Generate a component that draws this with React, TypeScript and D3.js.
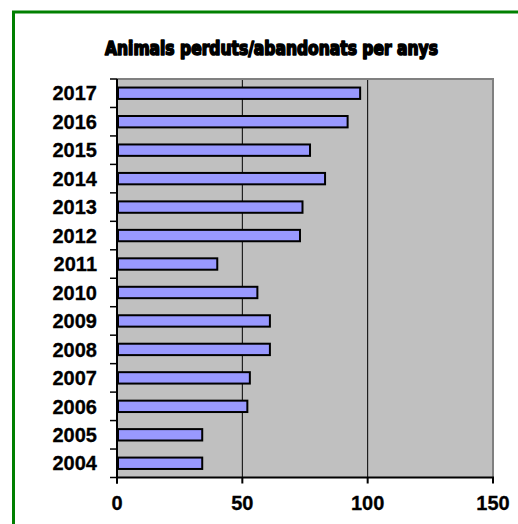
import React from "react";
import * as d3 from "d3";

const years = ["2017","2016","2015","2014","2013","2012","2011","2010","2009","2008","2007","2006","2005","2004"];
const values = [97, 92, 77, 83, 74, 73, 40, 56, 61, 61, 53, 52, 34, 34];
const xTicks = [0, 50, 100, 150];
const title = "Animals perduts/abandonats per anys";

export default function App() {
  const left = 117, right = 493, top = 79, bottom = 477.5;
  const x = d3.scaleLinear().domain([0, 150]).range([left, right]);
  const y = d3.scaleBand<string>().domain(years).range([top, bottom]).padding(0);
  const bw = y.bandwidth();
  const barH = bw * 0.4;
  const boundaries = d3.range(years.length + 1).map((i) => top + i * bw);
  return (
    <svg width={518} height={524} style={{ position: "absolute", left: 0, top: 0 }}>
      <rect x={0} y={0} width={518} height={524} fill="#fff" />
      <rect x={13.5} y={12} width={520} height={530} fill="none" stroke="#008000" strokeWidth={3} />
      <text x={271.5} y={54.5} textAnchor="middle" fontFamily="'DejaVu Sans Condensed', 'Liberation Sans Narrow', sans-serif" fontWeight={900} fontSize={19} textLength={333} lengthAdjust="spacingAndGlyphs" fill="#000" stroke="#000" strokeWidth={1.6} strokeLinejoin="round">{title}</text>
      <rect x={left} y={top} width={right - left} height={bottom - top} fill="#C0C0C0" />
      {xTicks.slice(1, -1).map((t) => (
        <line key={t} x1={x(t)} x2={x(t)} y1={top} y2={bottom} stroke="#000" strokeWidth={1} />
      ))}
      <line x1={left} x2={right + 1} y1={top} y2={top} stroke="#808080" strokeWidth={2} />
      <line x1={right} x2={right} y1={top} y2={bottom} stroke="#808080" strokeWidth={2} />
      {years.map((yr, i) => (
        <rect key={yr} x={x(0) + 1} y={(y(yr) as number) + bw / 2 - barH / 2} width={x(values[i]) - x(0) - 1} height={barH} fill="#9999FF" stroke="#000" strokeWidth={2} />
      ))}
      <line x1={left} x2={left} y1={top} y2={bottom + 6} stroke="#000" strokeWidth={2} />
      <line x1={left - 1} x2={right + 1} y1={bottom} y2={bottom} stroke="#000" strokeWidth={2} />
      {boundaries.map((b, i) => (
        <line key={i} x1={left - 7} x2={left} y1={b} y2={b} stroke="#000" strokeWidth={1.5} />
      ))}
      {xTicks.map((t) => (
        <line key={t} x1={x(t)} x2={x(t)} y1={bottom} y2={bottom + 6} stroke="#000" strokeWidth={2} />
      ))}
      {years.map((yr) => (
        <text key={yr} x={97} y={(y(yr) as number) + bw / 2} dy="0.36em" textAnchor="end" fontFamily="'Liberation Sans', Arial, sans-serif" fontWeight="bold" fontSize={20} fill="#000" stroke="#000" strokeWidth={0.3}>{yr}</text>
      ))}
      {xTicks.map((t) => (
        <text key={t} x={x(t)} y={510} textAnchor="middle" fontFamily="'Liberation Sans', Arial, sans-serif" fontWeight="bold" fontSize={20} fill="#000" stroke="#000" strokeWidth={0.3}>{t}</text>
      ))}
    </svg>
  );
}
